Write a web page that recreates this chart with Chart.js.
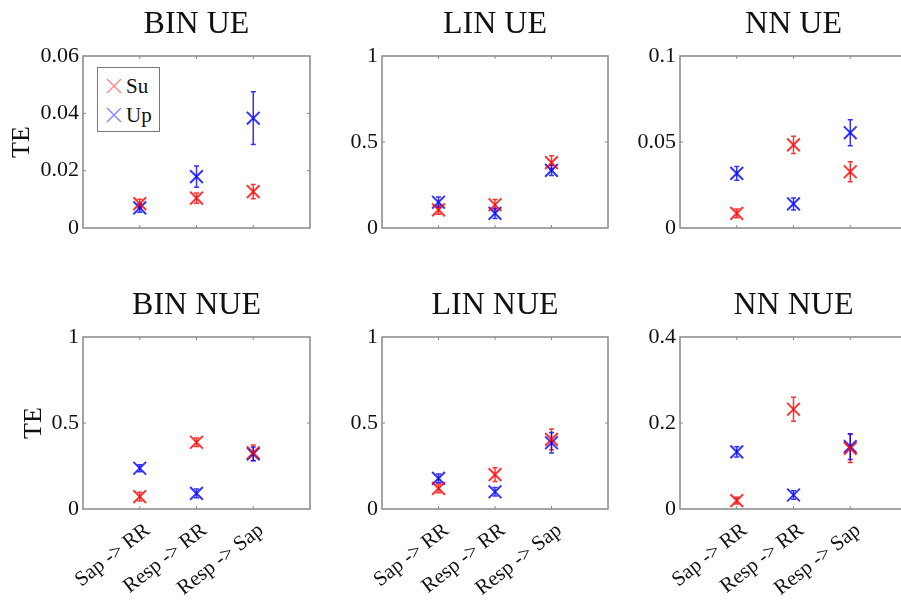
<!DOCTYPE html>
<html><head><meta charset="utf-8">
<script src="https://cdn.jsdelivr.net/npm/chart.js@4.4.0/dist/chart.umd.min.js"></script>
<style>
html,body{margin:0;padding:0;background:#fff;overflow:hidden;width:901px;height:601px;position:relative;}
canvas{position:absolute;}
#legend{position:absolute;left:97px;top:67px;width:61px;height:63px;border:1.5px solid #777;background:#fff;font-family:'Liberation Serif',serif;font-size:21px;color:#111;z-index:5;}
#legend .row{position:absolute;left:0;height:24px;line-height:24px;}
#legend svg{position:absolute;left:8px;top:4px;}
#legend span{position:absolute;left:28px;top:0;}
</style></head><body>
<div id="legend"></div>
<script>
const categories = ['Sap -> RR', 'Resp -> RR', 'Resp -> Sap'];
const seriesNames = ['Su', 'Up'];
const panelTitles = ['BIN UE', 'LIN UE', 'NN UE', 'BIN NUE', 'LIN NUE', 'NN NUE'];
const yAxisLabel = 'TE';

const binUeSu = [0.0085, 0.0104, 0.0127];
const binUeSuErr = [0.0015, 0.0018, 0.0025];
const binUeUp = [0.007, 0.0179, 0.0383];
const binUeUpErr = [0.0015, 0.0037, 0.0092];
const binUeTicks = [0, 0.02, 0.04, 0.06];

const linUeSu = [0.105, 0.135, 0.38];
const linUeSuErr = [0.025, 0.03, 0.04];
const linUeUp = [0.15, 0.085, 0.335];
const linUeUpErr = [0.03, 0.03, 0.03];
const linUeTicks = [0, 0.5, 1];

const nnUeSu = [0.0085, 0.0483, 0.0327];
const nnUeSuErr = [0.0025, 0.005, 0.0058];
const nnUeUp = [0.0318, 0.014, 0.0554];
const nnUeUpErr = [0.004, 0.0035, 0.0076];
const nnUeTicks = [0, 0.05, 0.1];

const binNueSu = [0.072, 0.388, 0.327];
const binNueSuErr = [0.025, 0.025, 0.045];
const binNueUp = [0.237, 0.091, 0.32];
const binNueUpErr = [0.02, 0.025, 0.04];
const binNueTicks = [0, 0.5, 1];

const linNueSu = [0.12, 0.2, 0.405];
const linNueSuErr = [0.025, 0.04, 0.06];
const linNueUp = [0.178, 0.1, 0.385];
const linNueUpErr = [0.025, 0.025, 0.06];
const linNueTicks = [0, 0.5, 1];

const nnNueSu = [0.0194, 0.232, 0.141];
const nnNueSuErr = [0.008, 0.028, 0.033];
const nnNueUp = [0.133, 0.0326, 0.145];
const nnNueUpErr = [0.012, 0.01, 0.03];
const nnNueTicks = [0, 0.2, 0.4];

const SERIF = "'Liberation Serif', 'DejaVu Serif', serif";
const RED = 'rgba(255,0,0,0.8)';
const BLUE = 'rgba(0,0,255,0.8)';
const RED_L = 'rgba(255,0,0,0.45)';
const BLUE_L = 'rgba(0,0,255,0.45)';

const panels = [
  {title: panelTitles[0], su: binUeSu, suErr: binUeSuErr, up: binUeUp, upErr: binUeUpErr, ticks: binUeTicks, left: 83, w: 227, row: 0, yTitle: true, yPad: 4},
  {title: panelTitles[1], su: linUeSu, suErr: linUeSuErr, up: linUeUp, upErr: linUeUpErr, ticks: linUeTicks, left: 382, w: 226, row: 0},
  {title: panelTitles[2], su: nnUeSu, suErr: nnUeSuErr, up: nnUeUp, upErr: nnUeUpErr, ticks: nnUeTicks, left: 680, w: 227, row: 0},
  {title: panelTitles[3], su: binNueSu, suErr: binNueSuErr, up: binNueUp, upErr: binNueUpErr, ticks: binNueTicks, left: 83, w: 227, row: 1, yTitle: true, yPad: 16},
  {title: panelTitles[4], su: linNueSu, suErr: linNueSuErr, up: linNueUp, upErr: linNueUpErr, ticks: linNueTicks, left: 382, w: 226, row: 1},
  {title: panelTitles[5], su: nnNueSu, suErr: nnNueSuErr, up: nnNueUp, upErr: nnNueUpErr, ticks: nnNueTicks, left: 680, w: 227, row: 1}
];
const rowTop = [56, 337];

const framePlugin = {
  id: 'frame',
  beforeDatasetsDraw(chart) {
    const ctx = chart.ctx, xs = chart.scales.x, ys = chart.scales.y;
    chart.data.datasets.forEach(ds => {
      ctx.save();
      ctx.strokeStyle = ds.pointBorderColor;
      ctx.lineWidth = 1.5;
      ds.data.forEach((pt, i) => {
        const e = ds.errors[i];
        const x = xs.getPixelForValue(pt.x);
        const y1 = ys.getPixelForValue(pt.y - e), y2 = ys.getPixelForValue(pt.y + e);
        ctx.beginPath();
        ctx.moveTo(x, y1); ctx.lineTo(x, y2);
        ctx.moveTo(x - 2.5, y1); ctx.lineTo(x + 2.5, y1);
        ctx.moveTo(x - 2.5, y2); ctx.lineTo(x + 2.5, y2);
        ctx.stroke();
      });
      ctx.restore();
    });
  },
  afterDraw(chart) {
    const ctx = chart.ctx, xs = chart.scales.x, ys = chart.scales.y;
    const {left, top, right, bottom} = chart.chartArea;
    ctx.save();
    ctx.strokeStyle = '#888';
    ctx.lineWidth = 1.5;
    ctx.strokeRect(left, top, right - left, bottom - top);
    ctx.lineWidth = 1;
    ctx.beginPath();
    ys.ticks.forEach(t => {
      if (t.value > ys.min && t.value < ys.max) {
        const y = ys.getPixelForValue(t.value);
        ctx.moveTo(left, y); ctx.lineTo(left + 3, y);
        ctx.moveTo(right, y); ctx.lineTo(right - 3, y);
      }
    });
    xs.ticks.forEach(t => {
      if (t.value > xs.min && t.value < xs.max) {
        const x = xs.getPixelForValue(t.value);
        ctx.moveTo(x, top); ctx.lineTo(x, top + 3);
        ctx.moveTo(x, bottom); ctx.lineTo(x, bottom - 3);
      }
    });
    ctx.stroke();
    ctx.restore();
  }
};

function makeChart(p) {
  const M = 80, PH = 172, TOP = 56, BOT = p.row === 0 ? 20 : 92;
  const c = document.createElement('canvas');
  c.width = p.w + 2 * M; c.height = TOP + PH + BOT;
  c.style.left = (p.left - M) + 'px';
  c.style.top = (rowTop[p.row] - TOP) + 'px';
  c.style.width = c.width + 'px'; c.style.height = c.height + 'px';
  document.body.appendChild(c);
  const mk = (name, vals, errs, color) => ({
    label: name,
    data: vals.map((v, i) => ({x: i + 1, y: v})),
    errors: errs,
    showLine: false,
    pointStyle: 'crossRot',
    pointRadius: 9,
    pointHoverRadius: 9,
    pointBorderWidth: 2,
    pointBorderColor: color,
    pointBackgroundColor: color,
    borderColor: color
  });
  new Chart(c, {
    type: 'scatter',
    data: {datasets: [mk(seriesNames[0], p.su, p.suErr, RED), mk(seriesNames[1], p.up, p.upErr, BLUE)]},
    options: {
      responsive: false, animation: false, devicePixelRatio: 1, events: [],
      layout: {padding: 0},
      plugins: {
        legend: {display: false}, tooltip: {enabled: false},
        title: {display: true, text: p.title, color: '#111',
          font: {family: SERIF, size: 32, weight: 'normal', lineHeight: '38px'},
          padding: {top: 6, bottom: 12}}
      },
      scales: {
        x: {
          type: 'linear', min: 0, max: 4,
          afterBuildTicks: s => { s.ticks = [0, 1, 2, 3, 4].map(v => ({value: v})); },
          afterFit: s => { s.height = BOT; },
          grid: {display: false, drawTicks: false}, border: {display: false},
          ticks: {display: p.row === 1, autoSkip: false, minRotation: 38, maxRotation: 38, padding: 9, labelOffset: 8,
            font: {family: SERIF, size: 21}, color: '#111',
            callback: v => (v >= 1 && v <= 3) ? categories[v - 1] : ''}
        },
        y: {
          type: 'linear', position: 'left', min: 0, max: p.ticks[p.ticks.length - 1],
          afterBuildTicks: s => { s.ticks = p.ticks.map(v => ({value: v})); },
          afterFit: s => { s.width = M; },
          grid: {display: false, drawTicks: false}, border: {display: false},
          ticks: {padding: 4, font: {family: SERIF, size: 22}, color: '#111', callback: v => String(v)},
          title: {display: !!p.yTitle, text: yAxisLabel, color: '#111',
            font: {family: SERIF, size: 26, lineHeight: 1.2}, padding: {top: p.yPad || 0, bottom: 0}}
        },
        yRight: {
          type: 'linear', position: 'right', display: true,
          afterFit: s => { s.width = M; },
          grid: {display: false, drawTicks: false}, border: {display: false},
          ticks: {display: false}
        }
      }
    },
    plugins: [framePlugin]
  });
}
panels.forEach(makeChart);

// legend
const lg = document.getElementById('legend');
[[seriesNames[0], RED_L, 6], [seriesNames[1], BLUE_L, 35]].forEach(([name, col, top]) => {
  const r = document.createElement('div');
  r.className = 'row'; r.style.top = top + 'px';
  r.innerHTML = '<svg width="16" height="16"><path d="M1 1L15 15M15 1L1 15" stroke="' + col + '" stroke-width="1.5"/></svg><span>' + name + '</span>';
  lg.appendChild(r);
});
</script>
</body></html>
